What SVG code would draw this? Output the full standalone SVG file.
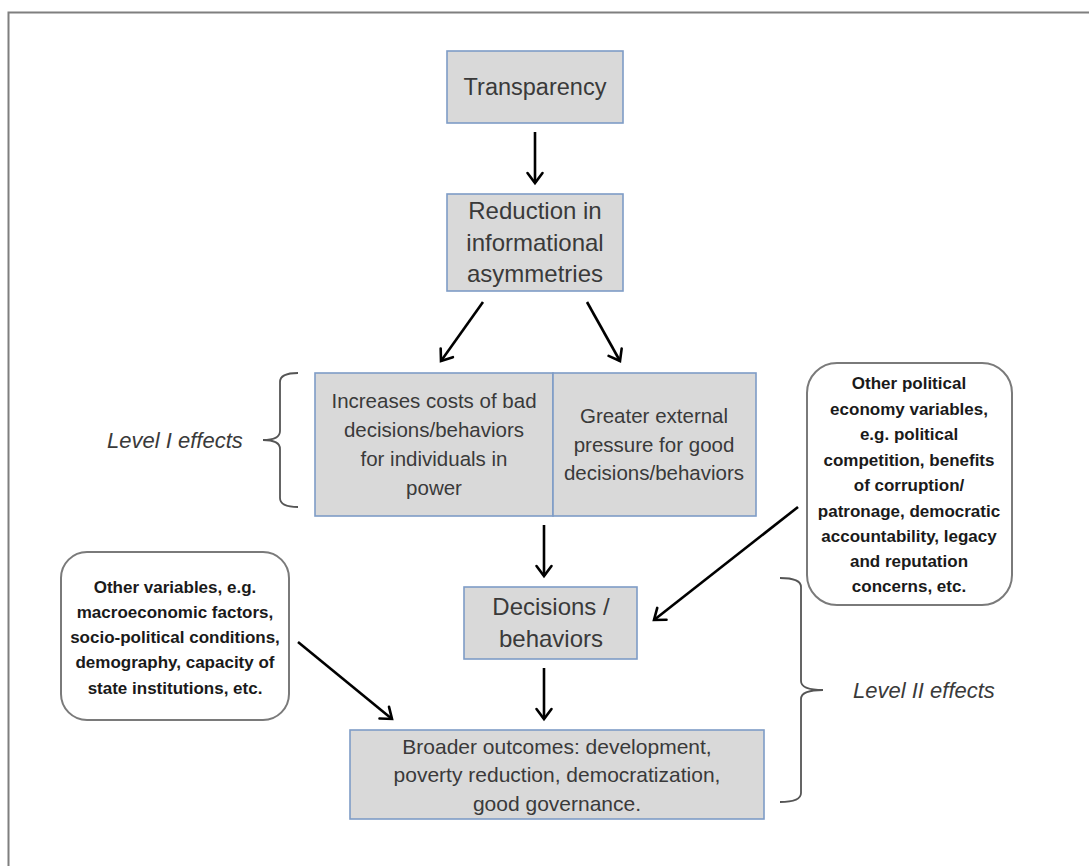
<svg xmlns="http://www.w3.org/2000/svg" width="1089" height="866" viewBox="0 0 1089 866">
<style>
.box{fill:#d9d9d9;stroke:#7e9cc6;stroke-width:1.6}
.rbox{fill:#ffffff;stroke:#7a7a7a;stroke-width:2}
.t{font-family:"Liberation Sans",Arial,sans-serif;fill:#3a3a3a;text-anchor:middle}
.b{font-family:"Liberation Sans",Arial,sans-serif;fill:#1a1a1a;text-anchor:middle;font-weight:bold;font-size:17px}
.lvl{font-family:"Liberation Sans",Arial,sans-serif;fill:#3a3a3a;font-style:italic;font-size:22px}
.brace{fill:none;stroke:#555555;stroke-width:1.8}
.arr{stroke:#000000;stroke-width:2.6;fill:none;marker-end:url(#ah)}
</style>
<defs>
<marker id="ah" markerUnits="userSpaceOnUse" viewBox="-14 -10 16 20" refX="0" refY="0" markerWidth="16" markerHeight="20" orient="auto" overflow="visible">
<path d="M-10,-7.5 L0,0 L-10,7.5" fill="none" stroke="#000000" stroke-width="2.6" stroke-linecap="round" stroke-linejoin="miter"/>
</marker>
</defs>
<rect x="0" y="0" width="1089" height="866" fill="#ffffff"/>
<path d="M1089,12.5 H8.5 V866" fill="none" stroke="#7f7f7f" stroke-width="2"/>

<g id="transparency">
<rect class="box" x="447" y="51" width="176" height="72"/>
<text class="t" x="535" y="95" font-size="23.5">Transparency</text>
</g>

<g id="reduction">
<rect class="box" x="447" y="194" width="176" height="97"/>
<text class="t" font-size="24"><tspan x="535" y="219">Reduction in</tspan><tspan x="535" y="251">informational</tspan><tspan x="535" y="282">asymmetries</tspan></text>
</g>

<g id="increases-costs">
<rect class="box" x="315" y="373" width="238" height="143"/>
<text class="t" font-size="20.5"><tspan x="434" y="408">Increases costs of bad</tspan><tspan x="434" y="437">decisions/behaviors</tspan><tspan x="434" y="466">for individuals in</tspan><tspan x="434" y="495">power</tspan></text>
</g>

<g id="external-pressure">
<rect class="box" x="553" y="373" width="203" height="143"/>
<text class="t" font-size="20.5"><tspan x="654" y="423">Greater external</tspan><tspan x="654" y="452">pressure for good</tspan><tspan x="654" y="480">decisions/behaviors</tspan></text>
</g>

<g id="level-1">
<path class="brace" d="M298,373 Q280,373 280,382 V431 Q280,440 263,440 Q280,440 280,449 V498 Q280,507 298,507"/>
<text class="lvl" x="107" y="448">Level I effects</text>
</g>

<g id="political-economy">
<rect class="rbox" x="807" y="363" width="205" height="242" rx="30" ry="30"/>
<text class="b"><tspan x="909" y="389">Other political</tspan><tspan x="909" y="415">economy variables,</tspan><tspan x="909" y="440">e.g. political</tspan><tspan x="909" y="466">competition, benefits</tspan><tspan x="909" y="491">of corruption/</tspan><tspan x="909" y="517">patronage, democratic</tspan><tspan x="909" y="542">accountability, legacy</tspan><tspan x="909" y="567">and reputation</tspan><tspan x="909" y="592">concerns, etc.</tspan></text>
</g>

<g id="decisions">
<rect class="box" x="464" y="587" width="173" height="72"/>
<text class="t" font-size="24"><tspan x="551" y="615">Decisions /</tspan><tspan x="551" y="647">behaviors</tspan></text>
</g>

<g id="other-variables">
<rect class="rbox" x="61" y="552" width="228" height="168" rx="26" ry="26"/>
<text class="b"><tspan x="175" y="593">Other variables, e.g.</tspan><tspan x="175" y="618">macroeconomic factors,</tspan><tspan x="175" y="643">socio-political conditions,</tspan><tspan x="175" y="668">demography, capacity of</tspan><tspan x="175" y="694">state institutions,  etc.</tspan></text>
</g>

<g id="broader-outcomes">
<rect class="box" x="350" y="730" width="414" height="89"/>
<text class="t" font-size="21"><tspan x="557" y="754">Broader outcomes: development,</tspan><tspan x="557" y="782">poverty reduction, democratization,</tspan><tspan x="557" y="811">good governance.</tspan></text>
</g>

<g id="level-2">
<path class="brace" d="M780,578 Q801,578 801,587 V681 Q801,690 823,690 Q801,690 801,699 V793 Q801,802 780,802"/>
<text class="lvl" x="853" y="698">Level II effects</text>
</g>

<g id="connectors">
<line class="arr" x1="535" y1="132" x2="535" y2="183"/>
<line class="arr" x1="483" y1="302" x2="441" y2="361"/>
<line class="arr" x1="587" y1="302" x2="620" y2="361"/>
<line class="arr" x1="544" y1="525" x2="544" y2="576"/>
<line class="arr" x1="544" y1="668" x2="544" y2="719"/>
<line class="arr" x1="298" y1="642" x2="392" y2="719"/>
<line class="arr" x1="798" y1="507" x2="654" y2="620"/>
</g>
</svg>
